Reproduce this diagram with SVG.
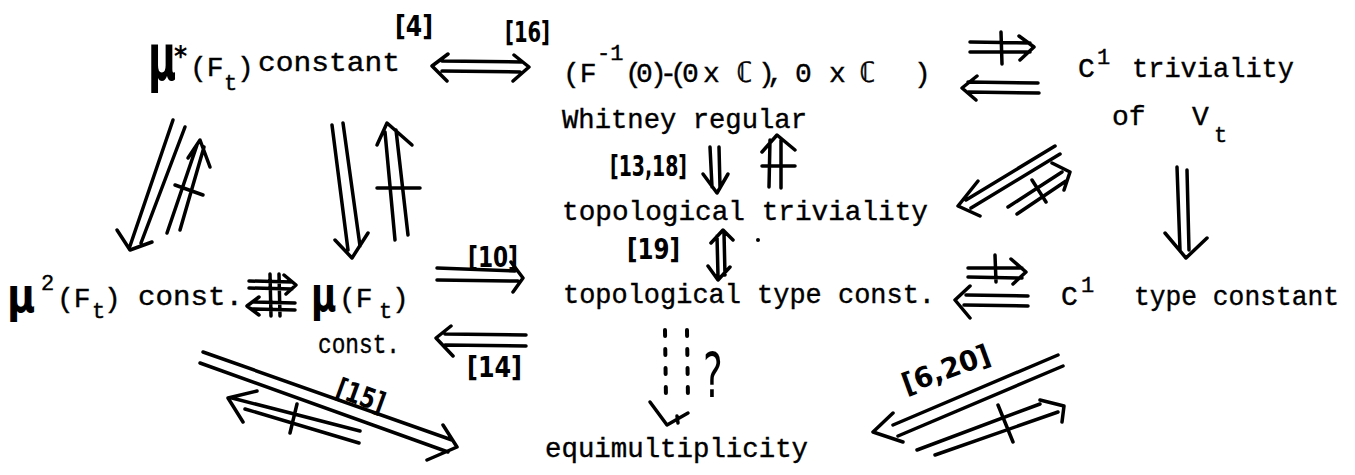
<svg xmlns="http://www.w3.org/2000/svg" width="1355" height="475" viewBox="0 0 1355 475">
<style>
.tw{font-family:"Liberation Mono","DejaVu Sans Mono",monospace;font-size:28px;fill:#000;stroke:#000;stroke-width:0.4}
.sm{font-size:22px}
.bb{font-family:"DejaVu Sans Mono",monospace;font-weight:bold}
.mu{font-family:"DejaVu Sans","Noto Sans",sans-serif;font-size:48px;fill:#000}
.hw{font-family:"DejaVu Sans Condensed","DejaVu Sans",sans-serif;font-weight:bold;font-size:28px;fill:#000}
.ln{stroke:#000;stroke-width:3.5;fill:none;stroke-linecap:round;stroke-linejoin:round}
.dt{stroke:#000;stroke-width:4;fill:none;stroke-linecap:round;stroke-dasharray:6 13}
</style>
<rect width="1355" height="475" fill="#fff"/>

<g id="n-mustar">
<text class="mu" font-weight="bold" transform="translate(148,80) scale(0.8,1.35)">μ</text>
<text class="hw" x="174" y="66" font-size="32px">*</text>
<text class="tw" x="190" y="76" font-size="26px">(F</text>
<text class="tw sm" x="224" y="90">t</text>
<text class="tw" x="237" y="76" font-size="26px">)</text>
<text class="tw" x="258" y="71" textLength="142" lengthAdjust="spacingAndGlyphs" font-size="30px">constant</text>
</g>

<g id="n-whitney">
<text class="tw" y="82"><tspan x="563">(F</tspan><tspan class="sm" x="597" y="60">-1</tspan><tspan x="625 636 650 660 670 682 703" y="82">(0)-(0x</tspan><tspan class="bb" x="736">ℂ</tspan><tspan x="758 767 781 795 812 829">), 0 x</tspan><tspan class="bb" x="859">ℂ</tspan><tspan x="914">)</tspan></text>
<text class="tw" x="562" y="128" textLength="245" lengthAdjust="spacingAndGlyphs">Whitney regular</text>
</g>

<g id="n-c1triv">
<text class="tw" x="1078" y="77">C</text>
<text class="tw sm" x="1097" y="64">1</text>
<text class="tw" x="1132" y="77" textLength="162" lengthAdjust="spacingAndGlyphs">triviality</text>
<text class="tw" x="1112" y="125">of</text>
<text class="tw" x="1192" y="125">V</text>
<text class="tw sm" x="1214" y="142">t</text>
</g>

<g id="n-toptriv">
<text class="tw" x="562" y="220" textLength="366" lengthAdjust="spacingAndGlyphs">topological triviality</text>
</g>

<g id="n-toptype">
<text class="tw" x="563" y="303" textLength="372" lengthAdjust="spacingAndGlyphs">topological type const.</text>
</g>

<g id="n-c1type">
<text class="tw" x="1061" y="305">C</text>
<text class="tw sm" x="1081" y="292">1</text>
<text class="tw" x="1134" y="305" textLength="205" lengthAdjust="spacingAndGlyphs">type constant</text>
</g>

<g id="n-mu2">
<text class="mu" font-weight="bold" transform="translate(7,312) scale(0.8,1.0)">μ</text>
<text class="tw sm" x="41" y="290" font-size="26px">2</text>
<text class="tw" x="57" y="307">(F</text>
<text class="tw sm" x="92" y="318">t</text>
<text class="tw" x="104" y="307">)</text>
<text class="tw" x="138" y="305" textLength="105" lengthAdjust="spacingAndGlyphs" font-size="30px">const.</text>
</g>

<g id="n-mu">
<text class="mu" font-weight="bold" transform="translate(311,311) scale(0.72,1.0)">μ</text>
<text class="tw" x="339" y="307">(F</text>
<text class="tw sm" x="379" y="318">t</text>
<text class="tw" x="392" y="307">)</text>
<text class="tw" x="318" y="353" textLength="82" lengthAdjust="spacingAndGlyphs">const.</text>
</g>

<g id="n-equi">
<text class="tw" x="545" y="457" textLength="263" lengthAdjust="spacingAndGlyphs">equimultiplicity</text>
</g>

<g id="connectors">
<!-- mu* <=> Whitney -->
<path class="ln" d="M442,61 L522,62 M442,71 L520,72 M448,54 L432,66 L447,81 M514,55 L529,67 L513,81"/>
<text class="hw" x="395" y="36" textLength="38" lengthAdjust="spacingAndGlyphs">[4]</text>
<text class="hw" x="505" y="42" textLength="45" lengthAdjust="spacingAndGlyphs">[16]</text>

<!-- Whitney =/=> C1 triv, and <== -->
<path class="ln" d="M970,42 L1030,43 M970,52 L1030,52 M1019,36 L1034,47 L1020,60 M1001,32 L1002,64"/>
<path class="ln" d="M968,82 L1038,83 M968,92 L1039,93 M977,76 L962,88 L976,100"/>

<!-- C1 triv => C1 type -->
<path class="ln" d="M1177,167 L1180,250 M1187,170 L1189,250 M1165,233 L1186,258 L1207,238"/>

<!-- C1 triv <=> top triv diagonals -->
<path class="ln" d="M1055,146 L966,200 M1060,154 L971,208 M978,181 L958,206 L980,216"/>
<path class="ln" d="M1008,207 L1062,172 M1017,214 L1066,181 M1052,163 L1070,172 L1064,190 M1032,180 L1046,202"/>

<!-- Whitney => top triv [13,18], not <= -->
<path class="ln" d="M710,147 L712,187 M719,147 L720,187 M703,174 L717,193 L728,174"/>
<path class="ln" d="M769,187 L770,140 M781,188 L781,140 M762,152 L777,135 L795,150 M762,166 L795,166"/>
<text class="hw" x="610" y="176" textLength="77" lengthAdjust="spacingAndGlyphs">[13,18]</text>

<!-- top triv <=> top type [19] -->
<path class="ln" d="M717,236 L718,276 M724,233 L725,275 M711,243 L723,230 L733,240 M708,266 L718,280 L730,267"/>
<text class="hw" x="627" y="259" textLength="53" lengthAdjust="spacingAndGlyphs">[19]</text>
<circle cx="758" cy="240" r="2" fill="#000"/>

<!-- top type =/=> C1 type, <== -->
<path class="ln" d="M968,268 L1022,268 M968,277 L1022,278 M1011,259 L1026,272 L1013,284 M995,255 L996,282"/>
<path class="ln" d="M966,295 L1028,296 M964,305 L1028,306 M970,286 L955,300 L970,318"/>

<!-- dotted ? arrow -->
<path class="dt" d="M665,330 L666,400 M687,330 L688,400"/>
<path class="ln" d="M650,402 L667,425 L688,413 M677,416 L678,423"/>
<text x="703" y="397" font-family="DejaVu Sans,sans-serif" font-size="62px" fill="#000" transform="translate(703,0) scale(0.6,1) translate(-703,0)">?</text>

<!-- mu* <=> mu long -->
<path class="ln" d="M332,125 L348,250 M343,123 L360,246 M335,240 L352,258 L368,233"/>
<path class="ln" d="M395,240 L385,132 M408,235 L396,130 M377,145 L387,123 L412,145 M377,188 L420,188"/>

<!-- mu* <=> mu2 diagonals -->
<path class="ln" d="M173,120 L130,246 M185,127 L141,243 M117,230 L130,250 L152,242"/>
<path class="ln" d="M167,233 L197,145 M180,230 L204,147 M188,158 L200,140 L210,167 M175,185 L203,195"/>

<!-- mu2 <-/-> mu -->
<path class="ln" d="M249,281 L292,282 M249,288 L292,289 M284,275 L296,285 L286,294 M252,302 L295,303 M252,309 L295,310 M259,297 L247,306 L259,315 M270,274 L271,316 M279,274 L280,316"/>

<!-- mu => top type [10], <= [14] -->
<path class="ln" d="M437,268 L515,271 M437,280 L518,281 M511,262 L523,278 L513,292"/>
<text class="hw" x="468" y="267" textLength="50" lengthAdjust="spacingAndGlyphs">[10]</text>
<path class="ln" d="M445,334 L526,335 M445,345 L526,346 M451,326 L436,338 L453,356"/>
<text class="hw" x="467" y="377" textLength="55" lengthAdjust="spacingAndGlyphs">[14]</text>

<!-- mu2 => equi [15], not <= -->
<path class="ln" d="M203,352 L452,440 M200,363 L448,452 M443,425 L457,447 L427,460"/>
<path class="ln" d="M232,398 L360,431 M245,409 L359,443 M257,391 L228,398 L243,422 M297,404 L290,433"/>
<text class="hw" x="0" y="0" transform="translate(334,396) rotate(20)" textLength="50" lengthAdjust="spacingAndGlyphs">[15]</text>

<!-- C1 type => equi [6,20], not <= -->
<path class="ln" d="M1058,355 L893,425 M1063,366 L898,436 M893,413 L873,432 L903,442"/>
<path class="ln" d="M917,450 L1040,404 M935,455 L1058,412 M1040,400 L1064,406 L1062,422 M998,405 L1013,442"/>
<text class="hw" x="0" y="0" transform="translate(906,394) rotate(-20)" textLength="92" lengthAdjust="spacingAndGlyphs" font-weight="normal" font-size="30px">[6,20]</text>
</g>
</svg>
